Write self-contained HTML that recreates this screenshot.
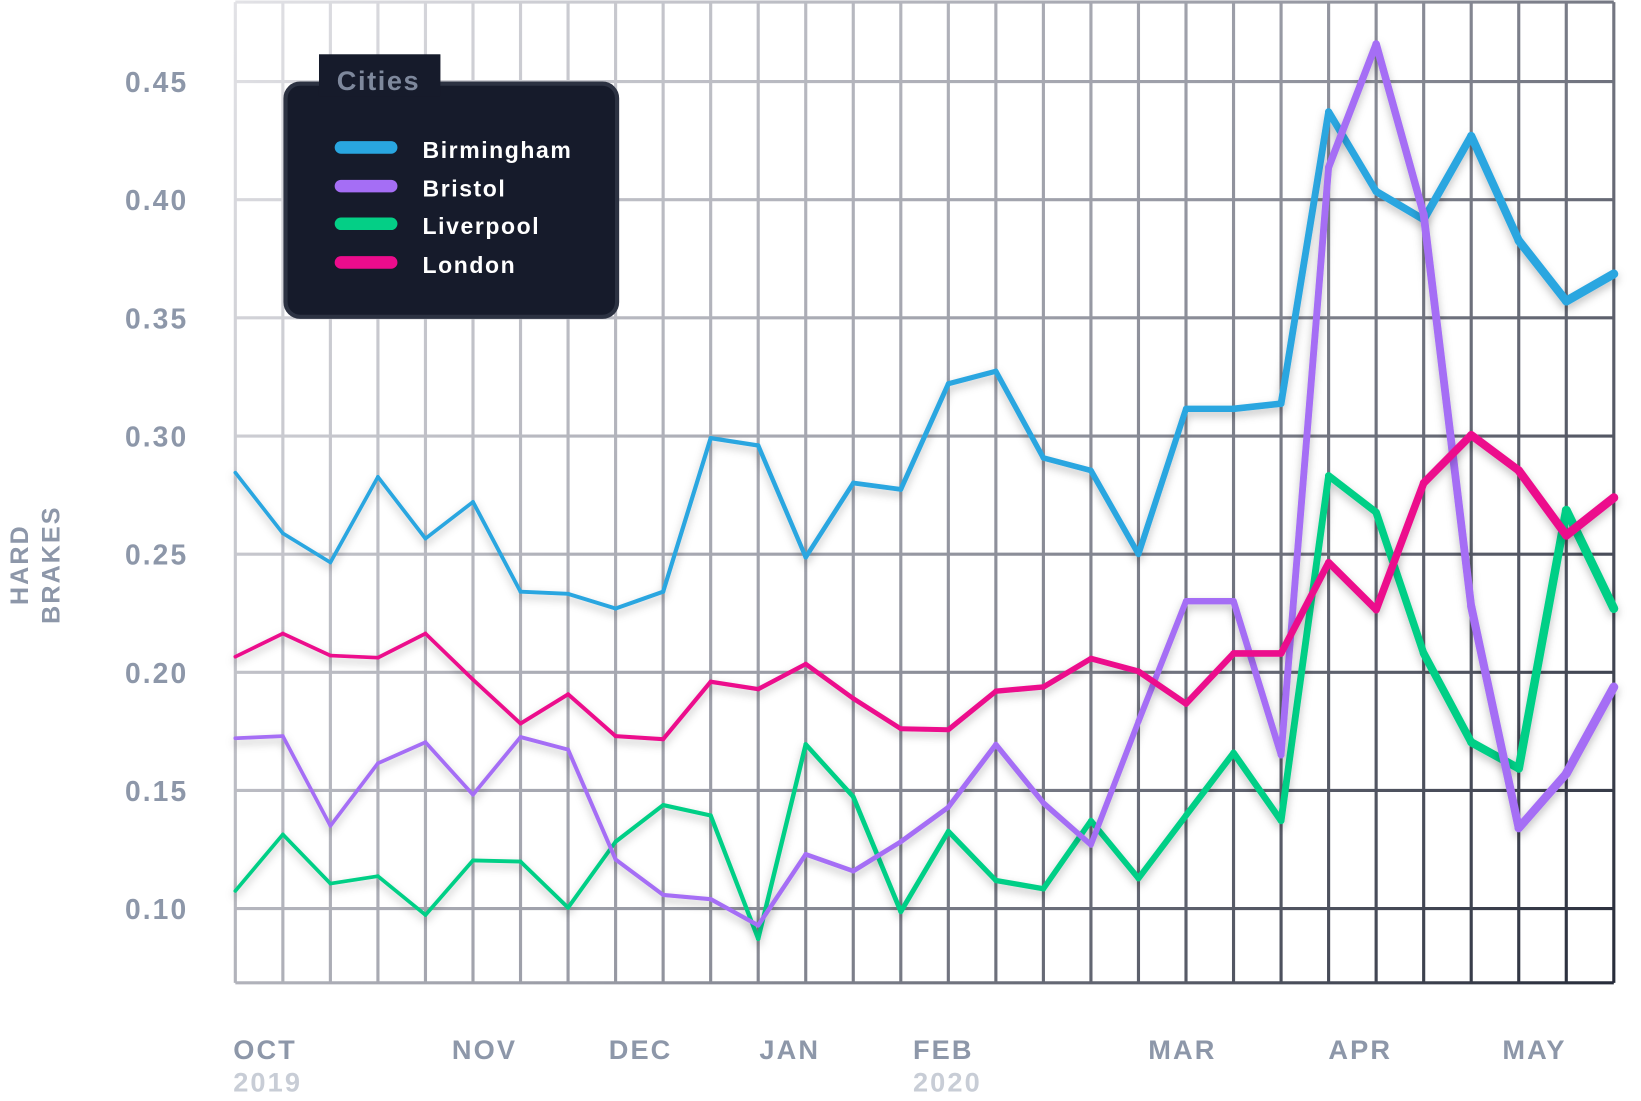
<!DOCTYPE html>
<html><head><meta charset="utf-8"><style>
html,body{margin:0;padding:0;background:#fff;}
svg{display:block;font-family:"Liberation Sans",sans-serif;}
</style></head><body>
<svg id="chart" width="1641" height="1101" viewBox="0 0 1569 1053" preserveAspectRatio="none" xmlns="http://www.w3.org/2000/svg">
<defs>
<linearGradient id="gridGrad" gradientUnits="userSpaceOnUse" x1="225" y1="0" x2="1543" y2="940">
<stop offset="0" stop-color="#e2e2e6"/><stop offset="0.5" stop-color="#9a9ca6"/><stop offset="1" stop-color="#272c3a"/>
</linearGradient>
<filter id="shadow" x="-10%" y="-10%" width="120%" height="130%"><feDropShadow dx="0" dy="4" stdDeviation="4" flood-color="#000" flood-opacity="0.25"/></filter>
</defs>
<g id="grid"></g>
<g id="yticks"></g>
<g id="xticks"></g>
<text transform="translate(27,540) rotate(-90)" text-anchor="middle" font-size="24" font-weight="bold" fill="#8d97a9" letter-spacing="2"><tspan x="0" dy="0">HARD</tspan><tspan x="0" dy="30">BRAKES</tspan></text>
<g id="series"></g>
<g>
<rect x="305" y="52" width="116" height="40" fill="#161b2b"/>
<rect x="273" y="80" width="317" height="223" rx="14" fill="#161b2b" stroke="#2c3242" stroke-width="4"/>
<rect x="305" y="52" width="116" height="40" fill="#161b2b"/>
<text x="322" y="86" font-size="26" font-weight="bold" fill="#7e889c" letter-spacing="1.5">Cities</text>
<g><line x1="326" y1="141" x2="374" y2="141" stroke="#29a6e0" stroke-width="12" stroke-linecap="round"/><text x="404" y="151" font-size="22" font-weight="bold" fill="#fff" letter-spacing="1.5">Birmingham</text></g>
<g><line x1="326" y1="178" x2="374" y2="178" stroke="#a56ef5" stroke-width="12" stroke-linecap="round"/><text x="404" y="188" font-size="22" font-weight="bold" fill="#fff" letter-spacing="1.5">Bristol</text></g>
<g><line x1="326" y1="214" x2="374" y2="214" stroke="#04cf86" stroke-width="12" stroke-linecap="round"/><text x="404" y="224" font-size="22" font-weight="bold" fill="#fff" letter-spacing="1.5">Liverpool</text></g>
<g><line x1="326" y1="251" x2="374" y2="251" stroke="#ec0c8c" stroke-width="12" stroke-linecap="round"/><text x="404" y="261" font-size="22" font-weight="bold" fill="#fff" letter-spacing="1.5">London</text></g>
</g>
</svg>
<script>
const birmingham=[0.2845,0.2588,0.2465,0.2827,0.2566,0.2721,0.2341,0.2332,0.2270,0.2341,0.2991,0.2960,0.2487,0.2801,0.2774,0.3221,0.3274,0.2907,0.2854,0.2500,0.3115,0.3115,0.3137,0.4372,0.4035,0.3916,0.4270,0.3827,0.3571,0.3686];
const bristol=[0.1721,0.1730,0.1350,0.1615,0.1704,0.1482,0.1726,0.1673,0.1208,0.1058,0.1040,0.0929,0.1230,0.1159,0.1283,0.1429,0.1695,0.1447,0.1270,0.1792,0.2301,0.2301,0.1650,0.4137,0.4659,0.3938,0.2279,0.1341,0.1571,0.1938];
const liverpool=[0.1075,0.1314,0.1106,0.1137,0.0973,0.1204,0.1199,0.1004,0.1283,0.1438,0.1394,0.0872,0.1695,0.1473,0.0987,0.1327,0.1119,0.1084,0.1372,0.1128,0.1394,0.1659,0.1372,0.2832,0.2677,0.2080,0.1704,0.1593,0.2686,0.2270];
const london=[0.2066,0.2164,0.2071,0.2062,0.2164,0.1969,0.1783,0.1907,0.1730,0.1717,0.1960,0.1929,0.2035,0.1889,0.1761,0.1757,0.1920,0.1938,0.2058,0.2004,0.1867,0.2080,0.2080,0.2465,0.2265,0.2801,0.3004,0.2854,0.2580,0.2739];
const yTicks=[0.10,0.15,0.20,0.25,0.30,0.35,0.40,0.45];
const yTickLabels=["0.10","0.15","0.20","0.25","0.30","0.35","0.40","0.45"];
const monthIdx=[0,4.6,7.9,11.07,14.3,19.25,23.04,26.7];
const monthLabels=["OCT","NOV","DEC","JAN","FEB","MAR","APR","MAY"];
const yearIdx=[0,14.3];
const yearLabels=["2019","2020"];

const NS="http://www.w3.org/2000/svg";
const X0=225,X1=1543,N=birmingham.length;
const x=i=>X0+i*(X1-X0)/(N-1);
const y=v=>869-(v-0.10)/0.05*113;
function mk(tag,attrs,parent){const e=document.createElementNS(NS,tag);for(const k in attrs)e.setAttribute(k,attrs[k]);parent.appendChild(e);return e;}
const grid=document.getElementById('grid');
for(let i=0;i<N;i++){
  const l=mk('line',{x1:x(i),x2:x(i),y1:2,y2:940,stroke:'url(#gridGrad)','stroke-width':3},grid);
  
  
}
const hy=[2].concat(yTicks.map(y)).concat([940]);
hy.forEach(v=>{
  const l=mk('line',{x1:X0,x2:X1,y1:v,y2:v,stroke:'url(#gridGrad)','stroke-width':3},grid);
  
  
});
const yt=document.getElementById('yticks');
yTicks.forEach((v,i)=>{
  const t=mk('text',{x:180,y:y(v)+10,'text-anchor':'end','font-size':27,'font-weight':'bold',fill:'#8d97a9','letter-spacing':2},yt);
  t.textContent=yTickLabels[i];
  
  
});
const xt=document.getElementById('xticks');
monthLabels.forEach((m,i)=>{
  const t=mk('text',{x:x(monthIdx[i])-2,y:1013,'font-size':26,'font-weight':'bold',fill:'#8d97a9','letter-spacing':2},xt);
  t.textContent=m;
  
  
});
yearLabels.forEach((m,i)=>{
  const t=mk('text',{x:x(yearIdx[i])-2,y:1044,'font-size':26,'font-weight':'bold',fill:'#c8cdd6','letter-spacing':2},xt);
  t.textContent=m;
  
  
});
const sg=document.getElementById('series');
const series=[['birmingham',birmingham,'#29a6e0'],['liverpool',liverpool,'#04cf86'],['bristol',bristol,'#a56ef5'],['london',london,'#ec0c8c']];
series.forEach(([name,data,col])=>{
  const g=mk('g',{filter:'url(#shadow)'},sg);
  
  
  for(let i=0;i<N-1;i++){
    const w=3.5+5*Math.pow(i/(N-2),2);
    const l=mk('line',{x1:x(i),y1:y(data[i]),x2:x(i+1),y2:y(data[i+1]),stroke:col,'stroke-width':w,'stroke-linecap':'round'},g);
    
    
  }
});
</script>
</body></html>
